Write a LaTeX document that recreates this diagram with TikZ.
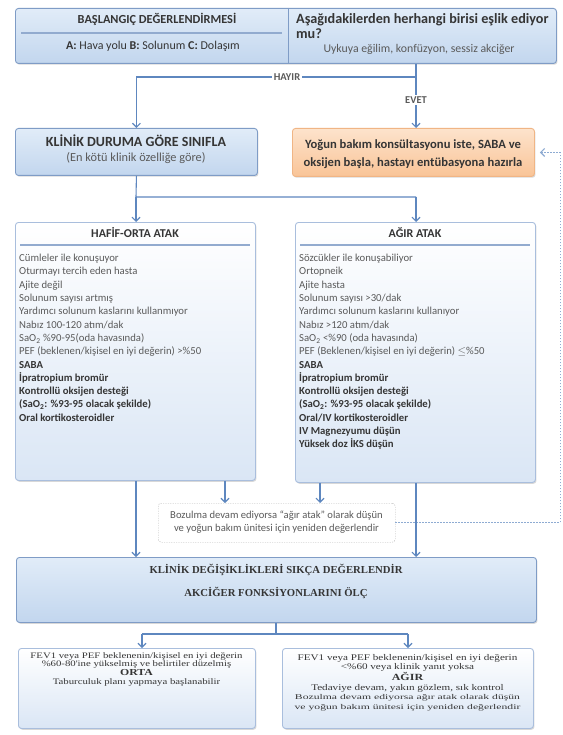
\documentclass[tikz,border=0pt]{standalone}
\usepackage{fontspec}
\setmainfont{Carlito}
\newfontfamily\serifwide[FakeStretch=1.28]{Liberation Serif}
\newfontfamily\serifwider[FakeStretch=1.6]{Liberation Serif}
\newfontfamily\serifface{Liberation Serif}
\usetikzlibrary{arrows.meta,shadows}

\definecolor{connblue}{HTML}{5E87BF}
\definecolor{bluebd}{HTML}{7F9CC6}
\definecolor{lightbd}{HTML}{A9BEDD}
\definecolor{bluetop}{HTML}{E1ECF8}
\definecolor{bluebot}{HTML}{C2D6EE}
\definecolor{palebot}{HTML}{DAE6F5}
\definecolor{orgtop}{HTML}{FDE3CC}
\definecolor{orgbot}{HTML}{F9C497}
\definecolor{orgbd}{HTML}{F0B585}
\definecolor{txt}{HTML}{353535}
\definecolor{txtlight}{HTML}{5A5A5A}

\tikzset{
  x=1pt, y=-1pt,
  box/.style={draw=bluebd, line width=0.9pt, rounded corners=3pt, inner sep=0pt,
    anchor=north west,
    drop shadow={shadow xshift=1pt, shadow yshift=-1.3pt, opacity=0.3}},
  bluebox/.style={box, top color=bluetop, bottom color=bluebot},
  palebox/.style={box, draw=lightbd, top color=white, bottom color=palebot},
  orangebox/.style={box, draw=orgbd, top color=orgtop, bottom color=orgbot},
  notebox/.style={draw=gray!60, dash pattern=on 1.2pt off 1.2pt, rounded corners=3pt,
    inner sep=0pt, anchor=north west, fill=white},
  head/.style={font=\fontsize{12}{14}\selectfont\bfseries, text=txt, inner sep=0pt},
  plain/.style={font=\fontsize{11}{13}\selectfont, text=txtlight, inner sep=0pt},
  body/.style={font=\fontsize{10.7}{13.3}\selectfont, text=txtlight, inner sep=0pt,
    anchor=north west, align=left},
  serifbody/.style={font=\serifwide\fontsize{8.4}{8.8}\selectfont, text=txt, inner sep=0pt,
    anchor=north, align=center},
  conn/.style={draw=connblue, line width=1.1pt},
  arr/.style={conn, -{Straight Barb[length=4pt,width=8pt,line width=1.1pt]}},
  dotline/.style={draw=connblue!70, line width=0.8pt, dash pattern=on 1.5pt off 1.5pt,
    -{Straight Barb[length=4pt,width=8pt,line width=1.1pt]}},
  lbl/.style={font=\fontsize{10.5}{12}\selectfont\bfseries, text=txtlight, fill=white,
    inner sep=2pt},
}

\begin{document}
\begin{tikzpicture}
\useasboundingbox[fill=white] (0,0) rectangle (562,735);

% ---------- initial assessment ----------
\node[bluebox, minimum width=541pt, minimum height=55pt] (start) at (15,8) {};
\draw[bluebd, line width=0.8pt] (288,8) -- (288,63);
\draw[bluebd!85, line width=1.2pt] (21,33) -- (282,33);
\node[head, font=\fontsize{12.3}{14}\selectfont\bfseries] (t1) at (157,19) {BAŞLANGIÇ DEĞERLENDİRMESİ};
\node[plain, font=\fontsize{12}{13}\selectfont, text=txt] (t2) at (153,46)
  {\textbf{A:} Hava yolu \textbf{B:} Solunum \textbf{C:} Dolaşım};
\node[head, font=\fontsize{14.2}{14.5}\selectfont\bfseries, anchor=west, align=left] (q1) at (296,26)
  {Aşağıdakilerden herhangi birisi eşlik ediyor\\mu?};
\node[plain, font=\fontsize{11.8}{13}\selectfont] (q2) at (419,49) {Uykuya eğilim, konfüzyon, sessiz akciğer};

% ---------- classify / intensive care ----------
\node[bluebox, minimum width=242pt, minimum height=47pt] (classify) at (15,128) {};
\node[head, font=\fontsize{14}{16}\selectfont\bfseries] (c1) at (136,141) {KLİNİK DURUMA GÖRE SINIFLA};
\node[plain, font=\fontsize{12.3}{16}\selectfont] (c2) at (136,158) {(En kötü klinik özelliğe göre)};

\node[orangebox, minimum width=242pt, minimum height=48pt] (icu) at (292,128) {};
\node[head, font=\fontsize{12.6}{18}\selectfont\bfseries, align=center] (i1) at (413,154)
  {Yoğun bakım konsültasyonu iste, SABA ve\\oksijen başla, hastayı entübasyona hazırla};

\coordinate (split) at (416,77);
\draw[conn] (start.south -| split) -- (split);
\draw[arr] (split) -| (classify.north);
\node[lbl] (hayir) at (287,77) {HAYIR};
\draw[arr] (split) -- (icu.north -| split)
  node[lbl, pos=0.45] (evet) {EVET};

% ---------- attack boxes ----------
\node[palebox, minimum width=240pt, minimum height=258pt] (mild) at (15,222) {};
\node[head] (m1) at (135,233) {HAFİF-ORTA ATAK};
\draw[bluebd!85, line width=1.2pt] (20,245) -- (250,245);
\node[body] (m2) at (19,254) {%
Cümleler ile konuşuyor\\
Oturmayı tercih eden hasta\\
Ajite değil\\
Solunum sayısı artmış\\
Yardımcı solunum kaslarını kullanmıyor\\
Nabız 100-120 atım/dak\\
SaO\textsubscript{2} \%90-95(oda havasında)\\
PEF (beklenen/kişisel en iyi değerin) >\%50\\
\textcolor{txt}{\textbf{SABA}}\\
\textcolor{txt}{\textbf{İpratropium bromür}}\\
\textcolor{txt}{\textbf{Kontrollü oksijen desteği}}\\
\textcolor{txt}{\textbf{(SaO\textsubscript{2}: \%93-95 olacak şekilde)}}\\
\textcolor{txt}{\textbf{Oral kortikosteroidler}}};

\node[palebox, minimum width=240pt, minimum height=260pt] (severe) at (295,222) {};
\node[head] (s1) at (415,233) {AĞIR ATAK};
\draw[bluebd!85, line width=1.2pt] (300,245) -- (530,245);
\node[body] (s2) at (299,254) {%
Sözcükler ile konuşabiliyor\\
Ortopneik\\
Ajite hasta\\
Solunum sayısı >30/dak\\
Yardımcı solunum kaslarını kullanıyor\\
Nabız >120 atım/dak\\
SaO\textsubscript{2} <\%90 (oda havasında)\\
PEF (Beklenen/kişisel en iyi değerin) $\leq$\%50\\
\textcolor{txt}{\textbf{SABA}}\\
\textcolor{txt}{\textbf{İpratropium bromür}}\\
\textcolor{txt}{\textbf{Kontrollü oksijen desteği}}\\
\textcolor{txt}{\textbf{(SaO\textsubscript{2}: \%93-95 olacak şekilde)}}\\
\textcolor{txt}{\textbf{Oral/IV kortikosteroidler}}\\
\textcolor{txt}{\textbf{IV Magnezyumu düşün}}\\
\textcolor{txt}{\textbf{Yüksek doz İKS düşün}}};

\coordinate (fork) at (136,197);
\draw[conn] (classify.south) -- (fork) -- (fork -| split);
\draw[arr] (fork) -- (mild.north -| fork);
\draw[arr] (fork -| split) -- (severe.north -| split);

% ---------- worsening note ----------
\node[notebox, minimum width=237pt, minimum height=39pt] (note) at (158,503) {};
\node[plain, font=\fontsize{10.6}{13}\selectfont, align=center] (n1) at (276.5,522)
  {Bozulma devam ediyorsa “ağır atak” olarak düşün\\ve yoğun bakım ünitesi için yeniden değerlendir};

\coordinate (na) at (225,0);
\coordinate (nb) at (320,0);
\coordinate (rim) at (560,0);
\draw[arr] (mild.south -| na) -- (note.north -| na);
\draw[arr] (severe.south -| nb) -- (note.north -| nb);
\draw[dotline, shorten >=5pt] (note.east) -- (note.east -| rim) |- (icu.east);

% ---------- reassessment ----------
\node[bluebox, minimum width=520pt, minimum height=65pt] (review) at (16,557) {};
\node[head, font=\serifface\fontsize{10.7}{12}\selectfont\bfseries] (r1) at (276,570)
  {KLİNİK DEĞİŞİKLİKLERİ SIKÇA DEĞERLENDİR};
\node[head, font=\serifface\fontsize{10.7}{12}\selectfont\bfseries] (r2) at (276,593)
  {AKCİĞER FONKSİYONLARINI ÖLÇ};

\draw[arr] (mild.south -| fork) -- (review.north -| fork);
\draw[arr] (severe.south -| split) -- (review.north -| split);

% ---------- outcomes ----------
\node[palebox, minimum width=237pt, minimum height=80pt] (moderate) at (18,648) {};
\node[serifbody] (o1) at (136.5,652) {%
FEV1 veya PEF beklenenin/kişisel en iyi değerin\\
\%60-80'ine yükselmiş ve belirtiler düzelmiş\\
{\bfseries\fontsize{9.2}{8.8}\selectfont ORTA}\\
Taburculuk planı yapmaya başlanabilir};

\node[palebox, minimum width=251pt, minimum height=80pt] (serious) at (282,648) {};
\node[serifbody, font=\serifwide\fontsize{8.7}{9.5}\selectfont] (o2) at (407.5,654) {%
FEV1 veya PEF beklenenin/kişisel en iyi değerin\\
<\%60 veya klinik yanıt yoksa\\
{\bfseries\fontsize{9.4}{9.5}\selectfont AĞIR}\\
Tedaviye devam, yakın gözlem, sık kontrol\\
{\serifwider\fontsize{7.3}{8.6}\selectfont Bozulma devam ediyorsa ağır atak olarak düşün}\\
{\serifwider\fontsize{7.3}{8.6}\selectfont ve yoğun bakım ünitesi için yeniden değerlendir}};

\coordinate (drop) at (276,634);
\coordinate (oa) at (142,0);
\coordinate (ob) at (408,0);
\draw[conn] (review.south -| drop) -- (drop);
\draw[conn] (drop -| oa) -- (drop -| ob);
\draw[arr] (drop -| oa) -- (moderate.north -| oa);
\draw[arr] (drop -| ob) -- (serious.north -| ob);
\end{tikzpicture}
\end{document}
